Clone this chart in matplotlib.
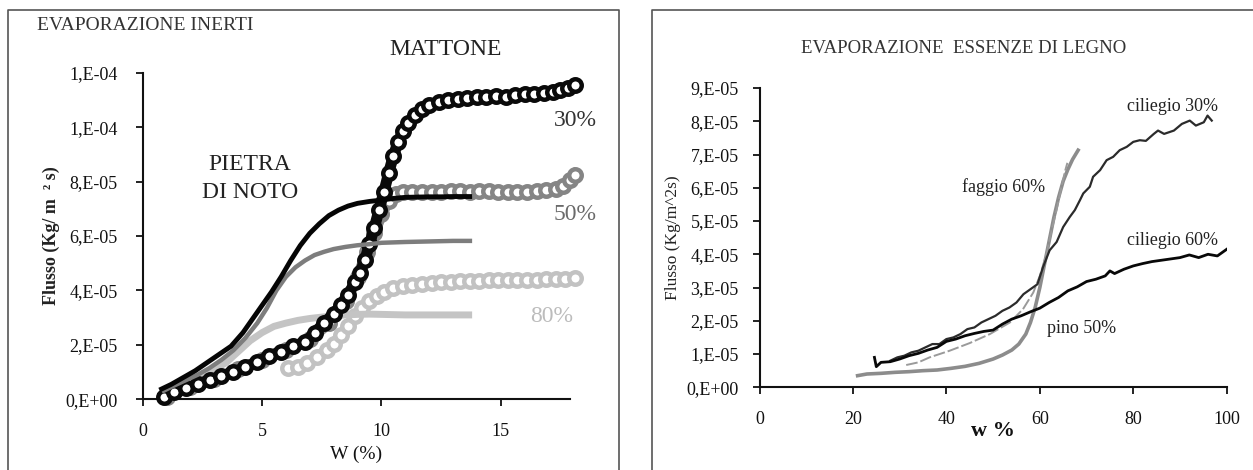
import matplotlib
matplotlib.use("Agg")
import matplotlib.pyplot as plt
from matplotlib.lines import Line2D

plt.rcParams['font.family'] = ['Liberation Serif', 'DejaVu Serif']

W, H = 1253, 470

# ---- left chart: EVAPORAZIONE INERTI (y in units of 1e-5) ----
matt30_x = [0.9, 1.3, 1.8, 2.3, 2.8, 3.3, 3.8, 4.3, 4.8, 5.3, 5.8, 6.3, 6.8, 7.2, 7.6,
            8.0, 8.3, 8.6, 8.9, 9.1, 9.3, 9.5, 9.7, 9.9, 10.1, 10.3, 10.5, 10.7, 10.9,
            11.1, 11.4, 11.7, 12.0, 12.4, 12.8, 13.2, 13.6, 14.0, 14.4, 14.8, 15.2,
            15.6, 16.0, 16.4, 16.8, 17.2, 17.5, 17.8, 18.1]
matt30_y = [0.1, 0.25, 0.42, 0.55, 0.72, 0.85, 1.0, 1.18, 1.38, 1.6, 1.75, 1.95, 2.1, 2.45, 2.8,
            3.15, 3.45, 3.85, 4.3, 4.65, 5.1, 5.7, 6.3, 6.95, 7.6, 8.3, 8.95, 9.45, 9.85,
            10.15, 10.45, 10.65, 10.8, 10.92, 11.0, 11.05, 11.07, 11.1, 11.1, 11.15, 11.12,
            11.18, 11.2, 11.2, 11.25, 11.3, 11.35, 11.45, 11.55]

matt50_x = [1.0, 2.0, 3.0, 4.0, 5.0, 6.0, 7.0, 7.8, 8.5, 9.0, 9.4, 9.7, 10.0, 10.3, 10.6,
            10.9, 11.3, 11.7, 12.1, 12.5, 12.9, 13.3, 13.7, 14.1, 14.5, 14.9, 15.3, 15.7,
            16.1, 16.5, 16.9, 17.3, 17.6, 17.9, 18.1]
matt50_y = [0.1, 0.45, 0.75, 1.1, 1.45, 1.8, 2.2, 2.8, 3.6, 4.5, 5.4, 6.1, 6.8, 7.3, 7.55,
            7.6, 7.62, 7.63, 7.63, 7.62, 7.64, 7.65, 7.63, 7.64, 7.66, 7.63, 7.62, 7.6,
            7.62, 7.65, 7.68, 7.72, 7.85, 8.05, 8.25]

matt80_x = [6.1, 6.5, 6.9, 7.3, 7.7, 8.0, 8.3, 8.6, 8.9, 9.2, 9.5, 9.8, 10.1, 10.5, 10.9,
            11.3, 11.7, 12.1, 12.5, 12.9, 13.3, 13.7, 14.1, 14.5, 14.9, 15.3, 15.7, 16.1,
            16.5, 16.9, 17.3, 17.7, 18.1]
matt80_y = [1.14, 1.2, 1.35, 1.55, 1.8, 2.05, 2.35, 2.7, 3.05, 3.35, 3.6, 3.8, 3.95, 4.08,
            4.15, 4.2, 4.24, 4.27, 4.3, 4.32, 4.33, 4.35, 4.36, 4.37, 4.38, 4.38, 4.39,
            4.4, 4.4, 4.41, 4.42, 4.42, 4.44]

pietra30_x = [0.7, 1.2, 1.7, 2.2, 2.7, 3.2, 3.7, 4.2, 4.6, 5.0, 5.4, 5.8, 6.2, 6.6, 7.0,
              7.4, 7.8, 8.2, 8.6, 9.0, 9.5, 10.0, 10.5, 11.0, 11.5, 12.0, 12.5, 13.0, 13.5, 13.8]
pietra30_y = [0.34, 0.55, 0.8, 1.05, 1.35, 1.65, 1.95, 2.45, 2.95, 3.45, 3.95, 4.5, 5.1, 5.65, 6.1,
              6.45, 6.75, 6.95, 7.1, 7.2, 7.27, 7.32, 7.38, 7.42, 7.43, 7.44, 7.44, 7.45, 7.45, 7.45]

pietra50_x = [0.8, 1.3, 1.8, 2.3, 2.8, 3.3, 3.8, 4.3, 4.8, 5.2, 5.6, 6.0, 6.4, 6.8, 7.2,
              7.6, 8.0, 8.5, 9.0, 9.5, 10.0, 11.0, 12.0, 13.0, 13.8]
pietra50_y = [0.28, 0.5, 0.7, 0.9, 1.15, 1.45, 1.8, 2.25, 2.8, 3.35, 4.0, 4.5, 4.85, 5.1, 5.3,
              5.42, 5.52, 5.6, 5.66, 5.7, 5.75, 5.78, 5.8, 5.82, 5.82]

pietra80_x = [0.9, 1.5, 2.0, 2.5, 3.0, 3.5, 4.0, 4.5, 5.0, 5.5, 6.0, 6.5, 7.0, 7.5, 8.0,
              8.5, 9.0, 9.5, 10.0, 11.0, 12.0, 13.0, 13.8]
pietra80_y = [0.22, 0.4, 0.6, 0.85, 1.1, 1.35, 1.75, 2.15, 2.45, 2.68, 2.8, 2.9, 2.97, 3.02, 3.06,
              3.1, 3.12, 3.13, 3.12, 3.1, 3.1, 3.1, 3.1]

left_yticks = [0, 2, 4, 6, 8, 10, 12]
left_ylabels = ['0,E+00', '2,E-05', '4,E-05', '6,E-05', '8,E-05', '1,E-04', '1,E-04']
left_xticks = [0, 5, 10, 15]

# ---- right chart: EVAPORAZIONE ESSENZE DI LEGNO (y in units of 1e-5) ----
cil30_x = [28, 29.5, 31, 32.5, 34, 35.5, 37, 38.5, 40, 41.5, 43, 44.5, 46, 47.5, 49, 50.5,
           52, 53.5, 55, 56.5, 58, 59.5, 60.7, 62.1, 63.6, 65, 66.4, 67.5, 68.6, 69.3, 70.7,
           71.4, 72.9, 74.3, 75.7, 77.1, 78.6, 80, 81.4, 82.7, 84.4, 85.3, 86.6, 88.7, 90.4,
           92.1, 93.4, 95.1, 95.9, 96.8]
cil30_y = [0.8, 0.9, 0.95, 1.05, 1.1, 1.2, 1.3, 1.3, 1.45, 1.5, 1.6, 1.75, 1.8, 1.95, 2.05, 2.15,
           2.3, 2.4, 2.55, 2.8, 2.95, 3.1, 3.62, 4.12, 4.37, 4.82, 5.12, 5.33, 5.63, 5.83, 6.03,
           6.33, 6.53, 6.83, 6.93, 7.13, 7.23, 7.38, 7.43, 7.41, 7.62, 7.72, 7.62, 7.72, 7.92,
           8.02, 7.87, 7.97, 8.17, 8.02]

cil60_x = [24.6, 25, 26, 28, 30, 32, 34, 36, 38, 40, 42, 44, 46, 48, 50, 52, 54, 56, 58, 60,
           62, 64, 66, 68, 70, 72, 74, 75, 76, 78, 80, 82, 84, 86, 88, 90, 92, 94, 96, 98, 100]
cil60_y = [0.9, 0.62, 0.75, 0.77, 0.85, 0.95, 1.02, 1.12, 1.2, 1.38, 1.45, 1.55, 1.62, 1.68,
           1.72, 1.9, 2.05, 2.15, 2.27, 2.38, 2.55, 2.7, 2.9, 3.02, 3.18, 3.25, 3.35, 3.5, 3.42,
           3.55, 3.65, 3.72, 3.78, 3.82, 3.86, 3.9, 3.98, 3.9, 4.0, 3.95, 4.15]

faggio60_x = [31.4, 34, 36.4, 40.7, 45, 49.3, 53.6, 56.4, 58.6, 60, 61.4, 62.5, 63.6, 64.6, 65.4, 65.9]
faggio60_y = [0.67, 0.75, 0.9, 1.1, 1.33, 1.6, 1.95, 2.35, 2.85, 3.35, 4.0, 4.7, 5.35, 6.0, 6.5, 6.75]

pino50_x = [21, 23, 26, 29, 32, 35, 38, 41, 44, 47, 50, 52, 54, 55.5, 57, 58, 59, 60, 61, 62,
            63, 64, 65, 66, 67, 68.2]
pino50_y = [0.35, 0.4, 0.42, 0.45, 0.47, 0.5, 0.52, 0.57, 0.63, 0.72, 0.85, 0.97, 1.12, 1.3,
            1.6, 1.95, 2.4, 3.0, 3.7, 4.4, 5.1, 5.7, 6.2, 6.55, 6.85, 7.13]

right_yticks = [0, 1, 2, 3, 4, 5, 6, 7, 8, 9]
right_ylabels = ['%d,E%s' % (v, '+00' if v == 0 else '-05') for v in right_yticks]
right_xticks = [0, 20, 40, 60, 80, 100]

fig = plt.figure(figsize=(W / 100, H / 100), dpi=100)


def px_axes(x0, x1, y0, y1):
    # axes box from pixel coords (top-left origin)
    return fig.add_axes([x0 / W, 1 - y1 / H, (x1 - x0) / W, (y1 - y0) / H])


def style_axes(ax, size):
    for s in ['top', 'right']:
        ax.spines[s].set_visible(False)
    for s in ['left', 'bottom']:
        ax.spines[s].set_linewidth(1.5)
        ax.spines[s].set_color('#111111')
    ax.tick_params(direction='out', length=5, width=1.3, labelsize=size, colors='#111111')


# panel frames
for xs, ys in [([8, 8, 619, 619], [470, 10, 10, 470]), ([652, 652, 1253], [470, 10, 10])]:
    fig.add_artist(Line2D([x / W for x in xs], [1 - y / H for y in ys], color='#555555', lw=1.2))

# ---------------- left ----------------
ax = px_axes(142.7, 570, 72.7, 399.3)
style_axes(ax, 13)
ax.set_xlim(0, 17.9)
ax.set_ylim(0, 12)
ax.set_xticks(left_xticks)
ax.set_yticks(left_yticks)
ax.set_yticklabels(left_ylabels)
ax.tick_params(axis='y', pad=13)
ax.tick_params(axis='x', pad=12)

mk = dict(marker='o', ms=9, mew=3.2, mfc='white', clip_on=False)
ax.plot(matt80_x, matt80_y, color='#c2c2c2', lw=8, mec='#c2c2c2', zorder=2, **mk)
ax.plot(matt50_x, matt50_y, color='#858585', lw=8, mec='#858585', zorder=2, **mk)
ax.plot(pietra80_x, pietra80_y, color='#c4c4c4', lw=5, solid_capstyle='butt', zorder=3)
ax.plot(matt30_x, matt30_y, color='#0a0a0a', lw=8, mec='#0a0a0a', zorder=4, **mk)
ax.plot(pietra50_x, pietra50_y, color='#7d7d7d', lw=3.2, solid_capstyle='butt', zorder=5)
ax.plot(pietra30_x, pietra30_y, color='#050505', lw=3.5, solid_capstyle='butt', zorder=6)

ax.text(12.7, 12.85, 'MATTONE', fontsize=17, ha='center', va='center', color='#222222', clip_on=False)
ax.text(4.5, 8.1, 'PIETRA\nDI NOTO', fontsize=17, ha='center', va='center', color='#222222',
        linespacing=1.45)
ax.text(18.13, 10.25, '30%', fontsize=17, ha='center', va='center', color='#333333', clip_on=False)
ax.text(18.13, 6.78, '50%', fontsize=17, ha='center', va='center', color='#6a6a6a', clip_on=False)
ax.text(17.12, 3.04, '80%', fontsize=17, ha='center', va='center', color='#bcbcbc', clip_on=False)
ax.set_xlabel('W (%)', fontsize=14, labelpad=4, color='#111111')
ax.set_ylabel('Flusso (Kg/ m  \u00b2 s)', fontsize=13, fontweight='bold', color='#222222', labelpad=4)
fig.text(37 / W, 1 - 26 / H, 'EVAPORAZIONE INERTI', fontsize=14, ha='left', va='center', color='#333333')

# ---------------- right ----------------
ax2 = px_axes(759.5, 1226.7, 88, 387.3)
style_axes(ax2, 13)
ax2.set_xlim(0, 100)
ax2.set_ylim(0, 9)
ax2.set_xticks(right_xticks)
ax2.set_yticks(right_yticks)
ax2.set_yticklabels(right_ylabels)
ax2.tick_params(axis='y', pad=10)
ax2.tick_params(axis='x', pad=12)

ax2.plot(pino50_x, pino50_y, color='#8c8c8c', lw=2.6, zorder=2)
ax2.plot(faggio60_x, faggio60_y, color='#9a9a9a', lw=1.4, ls=(0, (6, 1.5)), zorder=3)
ax2.plot(cil30_x, cil30_y, color='#2b2b2b', lw=1.6, zorder=4)
ax2.plot(cil60_x, cil60_y, color='#080808', lw=2.0, zorder=5)

ax2.text(88.3, 8.45, 'ciliegio 30%', fontsize=13, ha='center', va='center', color='#222222')
ax2.text(88.3, 4.4, 'ciliegio 60%', fontsize=13, ha='center', va='center', color='#222222')
ax2.text(52.3, 6.03, 'faggio 60%', fontsize=13, ha='center', va='center', color='#222222')
ax2.text(69.0, 1.77, 'pino 50%', fontsize=13, ha='center', va='center', color='#222222')
ax2.text(43.6, 10.2, 'EVAPORAZIONE  ESSENZE DI LEGNO', fontsize=13.5, ha='center', va='center',
         color='#333333', clip_on=False)
ax2.set_xlabel('w %', fontsize=16, fontweight='bold', labelpad=-5, color='#111111')
ax2.set_ylabel('Flusso (Kg/m^2s)', fontsize=12.5, color='#222222', labelpad=4)

fig.savefig('out.png', dpi=100)
